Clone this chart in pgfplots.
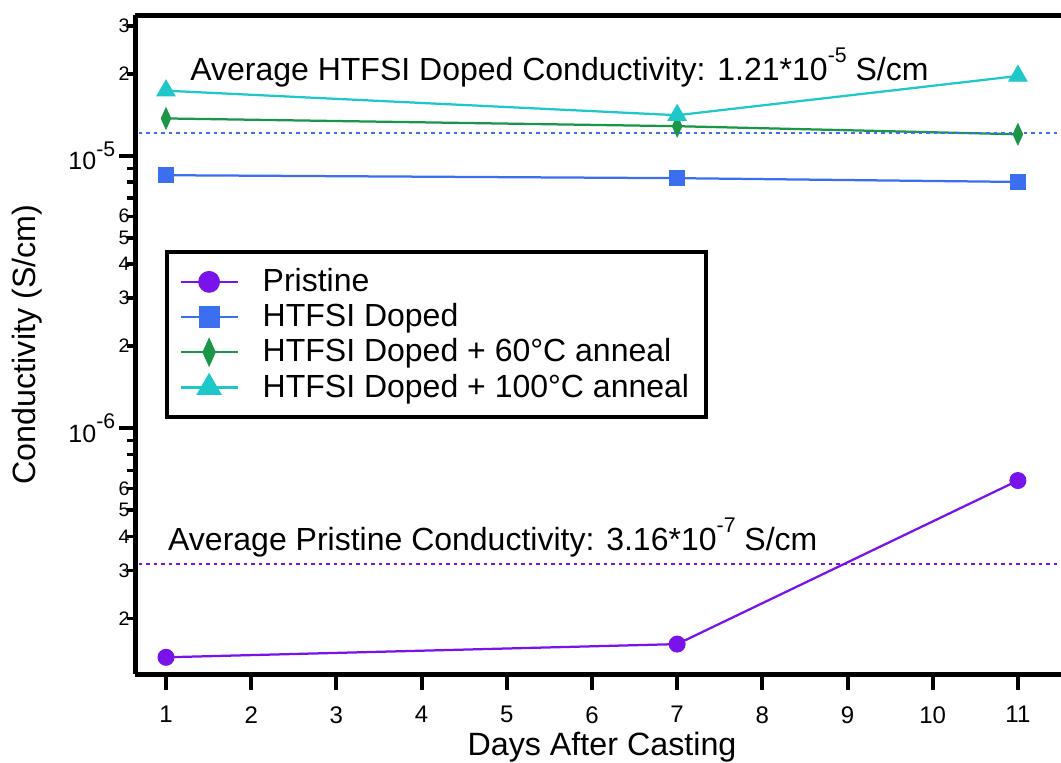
\documentclass[border=0pt]{standalone}
\usepackage{fontspec}
\setmainfont{Liberation Sans}
\usepackage{pgfplots}
\pgfplotsset{compat=1.18}
\definecolor{cpris}{RGB}{120,20,235}
\definecolor{cdop}{RGB}{60,110,240}
\definecolor{csixty}{RGB}{25,150,70}
\definecolor{chund}{RGB}{30,200,200}
\newcommand{\expo}[1]{\raisebox{1.05ex}{\fontsize{8.5}{8.5}\selectfont #1}}
\begin{document}
\begin{tikzpicture}
\begin{axis}[
  at={(0,0)}, anchor=south west,
  scale only axis, width=373.6pt, height=263.6pt,
  xmin=0.636, xmax=11.6,
  ymode=log, ymin=1.25e-7, ymax=3.29e-5,
  axis lines=left, axis line style={line width=2pt,-},
  clip=false,
  tick align=outside,
  major tick length=6.4pt,
  every tick/.style={black, line width=1.6pt},
  xtick={1,2,3,4,5,6,7,8,9,10,11},
  xticklabel style={font=\fontsize{9.6}{10}\selectfont, yshift=-3pt},
  /pgf/number format/assume math mode=true,
  ytick={1e-6,1e-5},
  yticklabels={10\expo{-6},10\expo{-5}},
  yticklabel style={font=\fontsize{10}{10}\selectfont, xshift=2pt},
  yminorticks=false,
  extra y ticks={2e-7,3e-7,4e-7,5e-7,6e-7,7e-7,8e-7,9e-7,2e-6,3e-6,4e-6,5e-6,6e-6,7e-6,8e-6,9e-6,2e-5,3e-5},
  extra y tick labels={2,3,4,5,6,,,,2,3,4,5,6,,,,2,3},
  extra y tick style={major tick length=3.2pt, every tick/.style={black,line width=1.4pt}, yticklabel style={font=\fontsize{7.8}{8}\selectfont, xshift=2.5pt}},
  xlabel={Days After Casting},
  ylabel={Conductivity (S/cm)},
  every axis x label/.style={at={(axis description cs:0.5,-0.1229)}, anchor=base, font=\fontsize{12.9}{13}\selectfont},
  every axis y label/.style={at={(axis description cs:-0.1156,0.5)}, rotate=90, anchor=center, font=\fontsize{12.9}{13}\selectfont},
  legend style={at={(axis description cs:0.0321,0.6434)}, anchor=north west, draw=black, line width=1.6pt,
    font=\fontsize{12.8}{14}\selectfont, inner xsep=5pt, inner ysep=4.9pt, row sep=0pt, column sep=8pt,
    nodes={inner xsep=1.6pt, inner ysep=1.65pt}},
  legend cell align=left,
  legend image code/.code={\draw[mark repeat=2,mark phase=2, every mark/.append style={scale=1.3}] plot coordinates {(0pt,0pt) (11.4pt,0pt) (22.8pt,0pt)};},
]
\addplot[cpris, line width=0.9pt, mark=*, mark size=3.2pt, mark options={fill=cpris, draw=cpris, line width=0.4pt}]
  coordinates {(1,1.44e-7) (7,1.61e-7) (11,6.42e-7)};
\addlegendentry{Pristine}
\addplot[cdop, line width=0.9pt, mark=square*, mark size=3.1pt, mark options={fill=cdop, draw=cdop, line width=0.4pt}]
  coordinates {(1,8.49e-6) (7,8.28e-6) (11,8.02e-6)};
\addlegendentry{HTFSI Doped}
\addplot[csixty, line width=0.9pt, mark=diamond*, mark size=4.2pt, mark options={fill=csixty, draw=csixty, line width=0.4pt, xscale=0.6}]
  coordinates {(1,1.372e-5) (7,1.285e-5) (11,1.2e-5)};
\addlegendentry{HTFSI Doped + 60°C anneal}
\addplot[chund, line width=0.9pt, mark=triangle*, mark size=4.2pt, mark options={fill=chund, draw=chund, line width=0.4pt}]
  coordinates {(1,1.735e-5) (7,1.41e-5) (11,1.965e-5)};
\addlegendentry{HTFSI Doped + 100°C anneal}
\addplot[cdop, line width=0.8pt, dash pattern=on 1.4pt off 1.6pt, forget plot]
  coordinates {(0.68,1.21e-5) (11.6,1.21e-5)};
\addplot[cpris, line width=0.8pt, dash pattern=on 1.4pt off 1.6pt, forget plot]
  coordinates {(0.68,3.16e-7) (11.6,3.16e-7)};
\node[anchor=base west, font=\fontsize{12.8}{13}\selectfont, inner sep=0pt] at (axis cs:1.28,1.897e-5)
  {Average HTFSI Doped Conductivity: 1.21*10\expo{-5} S/cm};
\node[anchor=base west, font=\fontsize{12.8}{13}\selectfont, inner sep=0pt] at (axis cs:1.02,3.55e-7)
  {Average Pristine Conductivity: 3.16*10\expo{-7} S/cm};
\draw[line width=2pt, black] (rel axis cs:0,1) -- (rel axis cs:1,1);
\end{axis}
\pgfresetboundingbox
\path[use as bounding box] (-54pt,-35.2pt) rectangle (370.4pt,269.6pt);
\end{tikzpicture}
\end{document}
